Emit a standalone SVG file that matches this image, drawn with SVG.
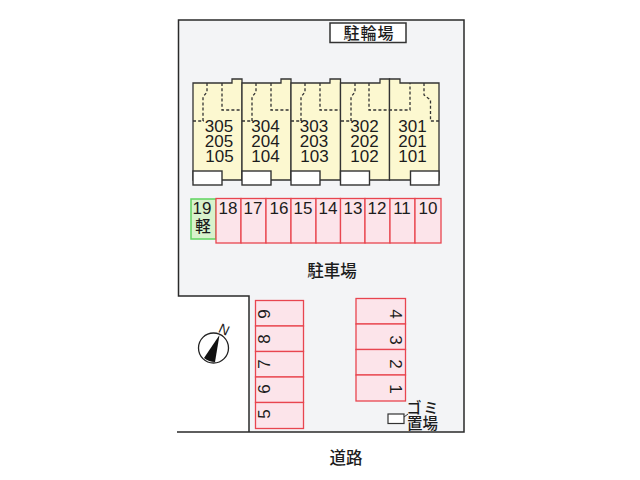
<svg xmlns="http://www.w3.org/2000/svg" width="640" height="480" viewBox="0 0 640 480">
<style>
text{font-family:"Liberation Sans","Noto Sans CJK JP",sans-serif;fill:#1c1c1c;text-anchor:middle}
.cjk{font-family:"Noto Sans CJK JP",sans-serif;font-weight:500}
.unit{fill:#fcf8d0;stroke:#333;stroke-width:1.300}
.box{fill:#fff;stroke:#333;stroke-width:1.400}
.dash{fill:none;stroke:#333;stroke-width:1.300;stroke-dasharray:3 2.200}
.p{fill:#fce4ea;stroke:#e8454f;stroke-width:1.300}
.n{font-size:17px}
</style>
<rect width="640" height="480" fill="#fff"/>
<g id="site">
<path d="M178.500 20H464V432H249V296H178.500Z" fill="#f3f4f6"/>
<path d="M177 432H464V20H178.500V296H249V432" fill="none" stroke="#2a2a2a" stroke-width="1.500"/>
</g>
<g id="bicycle-parking">
<rect x="330" y="23" width="76" height="19.500" fill="#fff" stroke="#333" stroke-width="1.500"/>
<text class="cjk" x="369" y="39" font-size="16" letter-spacing="1">駐輪場</text>
</g>
<g id="building">
<g id="unit-5"><path class="unit" d="M193 83H232V79H242V180H193Z"/><rect class="box" x="193" y="171" width="29" height="14"/><path class="dash" d="M207 83V92L203 97V121M193 121H204M222 83V110H242"/><text class="n" x="219" y="132">305</text><text class="n" x="219" y="147">205</text><text class="n" x="219.500" y="162">105</text></g>
<g id="unit-4"><path class="unit" d="M242 83H281V79H291V180H242Z"/><rect class="box" x="242" y="171" width="29" height="14"/><path class="dash" d="M256 83V92L252 97V121M242 121H253M271 83V110H291"/><text class="n" x="265.500" y="132">304</text><text class="n" x="265.500" y="147">204</text><text class="n" x="265.500" y="162">104</text></g>
<g id="unit-3"><path class="unit" d="M291 83H330V79H340.500V180H291Z"/><rect class="box" x="291" y="171" width="29" height="14"/><path class="dash" d="M305 83V92L301 97V121M291 121H302M320 83V110H340"/><text class="n" x="314" y="132">303</text><text class="n" x="314" y="147">203</text><text class="n" x="314.500" y="162">103</text></g>
<g id="unit-2"><path class="unit" d="M340.500 83H380V79H389.500V180H340.500Z"/><rect class="box" x="340.500" y="171" width="29" height="14"/><path class="dash" d="M355 83V92L351 97V121M341 121H352M369 83V110H389"/><text class="n" x="364.500" y="132">302</text><text class="n" x="364.500" y="147">202</text><text class="n" x="364.500" y="162">102</text></g>
<g id="unit-1"><path class="unit" d="M389.500 83V79H400V83H439V180H389.500Z"/><rect class="box" x="410.500" y="171" width="28.500" height="14"/><path class="dash" d="M389 110H410V83M424 83V95L430.500 100V121H439"/><text class="n" x="412.500" y="132">301</text><text class="n" x="412.500" y="147">201</text><text class="n" x="412.500" y="162">101</text></g>
</g>
<g id="parking-row">
<g id="p19"><rect x="191" y="199" width="25" height="40" fill="#d8f2cc" stroke="#5fd45f" stroke-width="1.500"/><text class="n" x="202" y="214">19</text><text class="cjk" x="203" y="232" font-size="15.500">軽</text></g>
<g id="p18"><rect class="p" x="216" y="198.500" width="25" height="44.500"/><text class="n" x="228" y="214">18</text></g>
<g id="p17"><rect class="p" x="241" y="198.500" width="25" height="44.500"/><text class="n" x="253" y="214">17</text></g>
<g id="p16"><rect class="p" x="266" y="198.500" width="25" height="44.500"/><text class="n" x="279" y="214">16</text></g>
<g id="p15"><rect class="p" x="291" y="198.500" width="25" height="44.500"/><text class="n" x="303" y="214">15</text></g>
<g id="p14"><rect class="p" x="316" y="198.500" width="24.500" height="44.500"/><text class="n" x="328" y="214">14</text></g>
<g id="p13"><rect class="p" x="340.500" y="198.500" width="24.500" height="44.500"/><text class="n" x="353" y="214">13</text></g>
<g id="p12"><rect class="p" x="365" y="198.500" width="25" height="44.500"/><text class="n" x="377" y="214">12</text></g>
<g id="p11"><rect class="p" x="390" y="198.500" width="25" height="44.500"/><text class="n" x="402" y="214">11</text></g>
<g id="p10"><rect class="p" x="415" y="198.500" width="26" height="44.500"/><text class="n" x="428" y="214">10</text></g>
</g>
<g id="parking-label"><text class="cjk" x="332" y="277" font-size="16.500">駐車場</text></g>
<g id="parking-left">
<g id="p9"><rect class="p" x="255.500" y="300.500" width="48" height="25.500"/><text class="n" transform="translate(270 314) rotate(-90)">9</text></g>
<g id="p8"><rect class="p" x="255.500" y="326" width="48" height="25.500"/><text class="n" transform="translate(270 339) rotate(-90)">8</text></g>
<g id="p7"><rect class="p" x="255.500" y="351.500" width="48" height="25.500"/><text class="n" transform="translate(270 364) rotate(-90)">7</text></g>
<g id="p6"><rect class="p" x="255.500" y="377" width="48" height="25.500"/><text class="n" transform="translate(270 389) rotate(-90)">6</text></g>
<g id="p5"><rect class="p" x="255.500" y="402.500" width="48" height="26"/><text class="n" transform="translate(270 414) rotate(-90)">5</text></g>
</g>
<g id="parking-right">
<g id="p4"><rect class="p" x="356" y="298.500" width="49.500" height="25.500"/><text class="n" transform="translate(389.500 314) rotate(90)">4</text></g>
<g id="p3"><rect class="p" x="356" y="324" width="49.500" height="25.500"/><text class="n" transform="translate(389.500 340) rotate(90)">3</text></g>
<g id="p2"><rect class="p" x="356" y="349.500" width="49.500" height="25.500"/><text class="n" transform="translate(389.500 364) rotate(90)">2</text></g>
<g id="p1"><rect class="p" x="356" y="375" width="49.500" height="26"/><text class="n" transform="translate(389.500 389) rotate(90)">1</text></g>
</g>
<g id="garbage">
<rect x="388" y="414" width="16" height="9.500" fill="#fff" stroke="#333" stroke-width="1.200"/>
<path d="M404 417L408 414" fill="none" stroke="#333" stroke-width="1"/>
<text class="cjk" x="414 431" y="412.500" font-size="15">ゴミ</text>
<text class="cjk" x="422.500" y="429" font-size="15.500">置場</text>
</g>
<g id="compass">
<circle cx="213.500" cy="348" r="15" fill="#fff" stroke="#222" stroke-width="1.300"/>
<path d="M219.500 335L204 358Q209 362 215 362Z" fill="#111"/>
<text font-size="14" transform="translate(222 334) rotate(25)">N</text>
</g>
<g id="road-label"><text class="cjk" x="346" y="464" font-size="16.500">道路</text></g>
</svg>
